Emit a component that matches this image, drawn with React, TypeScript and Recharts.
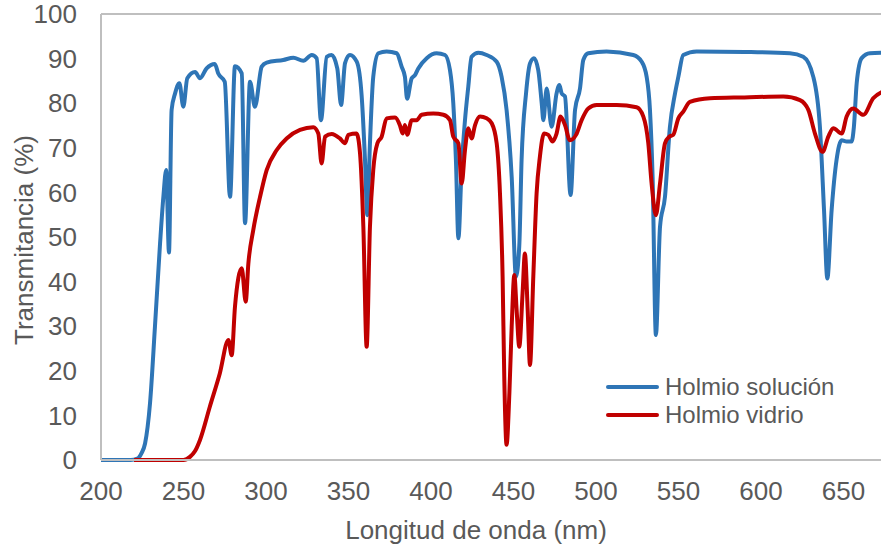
import { Legend, Line, LineChart, ReferenceLine, XAxis, YAxis } from 'recharts'

// Holmio en solución: longitud de onda (nm) y transmitancia (%)
const solNm = [
  200, 218, 222, 224.5, 226.7, 229.7, 232.7, 235.8, 237.8, 239.5, 241.2, 242.8, 244.9, 247.5, 249.9,
  252.3, 257, 260, 264, 269, 271, 275, 278.2, 281.2, 285.3, 287.3, 290.3, 293.3, 297.4, 300.4, 310.5,
  316.6, 322.6, 327.7, 330.7, 333.3, 336.8, 339.8, 343.2, 345.5, 347.9, 350.9, 355, 358, 360, 361.4,
  363, 365, 368.1, 373.1, 379.2, 382.2, 384.2, 385.5, 388.3, 390.3, 392.3, 397.4, 403.4, 408.5, 411.5,
  413.5, 415.1, 416.6, 418.6, 420.6, 422.6, 424.6, 428.7, 433.7, 439.8, 442.8, 445.8, 448.9, 451.5,
  453.5, 454.9, 457.6, 460, 462.4, 465, 467.1, 468.1, 470.1, 473.1, 476.1, 477.8, 479.2, 481.2, 484.6,
  487.3, 490.3, 492.3, 495.3, 506.4, 522.6, 527.7, 530.7, 532.7, 534.3, 536.3, 538.8, 541.8, 544.8,
  547.9, 549.9, 552.9, 561, 590, 617.5, 625.6, 631.7, 635.7, 638.2, 640.2, 642.8, 645.8, 648.9, 651.9,
  654.9, 656.3, 658, 661, 666, 675,
]
const solT = [
  0, 0, 0.3, 1.5, 3.7, 12.7, 29.9, 48.6, 59, 65, 46.5, 78.5, 82.2, 84.5, 79.2,
  85.6, 87, 85.6, 87.8, 88.8, 86.7, 84.8, 59, 88.3, 86.7, 53.1, 84.8, 79.2, 88.2, 89.1, 89.7,
  90.2, 89.5, 90.8, 90.1, 76.2, 90.4, 90.8, 87.8, 79.6, 89, 90.8, 89.3, 81.5, 67.3, 54.9,
  71, 85.9, 91.2, 91.6, 91.2, 88.2, 85.9, 81, 85.6, 86.3, 87.8, 90.1, 91.2, 90.8, 87.4,
  80, 67.3, 49.7, 65.8, 76.2, 83.7, 90.4, 91.3, 90.8, 89.3, 85.9, 78.5, 63.5, 41.1,
  48, 67.3, 82.2, 88.9, 90.1, 87.4, 80, 76.2, 83.3, 74.7, 82.2, 84.1, 82.2, 81.5, 59.4,
  78.5, 83.3, 89.7, 91.2, 91.6, 90.8, 89.3, 85.9, 78.5, 63.5, 28, 52.3, 59, 74.7,
  82.2, 85.9, 90.8, 91.6, 91.5, 91.2, 90.4, 85.9, 74.7, 56, 40.7, 56, 67.3, 71.7, 71.4,
  71.4, 74.7, 84.5, 90.1, 91.2, 91.3,
]

// Holmio en vidrio
const vidNm = [
  220, 250, 253.9, 257, 260, 266, 272, 277.2, 279.2, 281.2, 285.3, 287.7, 289.3, 292.3, 296.4, 300.4,
  306.5, 312.5, 320.6, 328.7, 331.7, 333.7, 335.8, 339.8, 344.8, 347.9, 349.9, 354.9, 357, 359, 361,
  363, 365, 367.5, 370.1, 373.1, 378.2, 381.2, 382.8, 384.2, 385.6, 388.3, 391.3, 394.3, 401.4, 407.5,
  411.5, 413.5, 416.6, 418.6, 420.6, 422.6, 424.6, 426.7, 429.7, 433.7, 436.8, 439.8, 441.8, 443.4,
  444.4, 445.8, 447.5, 448.9, 450.5, 451.9, 453.5, 455.5, 456.9, 458.6, 460, 462, 464, 466, 468.5,
  471.1, 473.7, 476.1, 478.5, 481.2, 484.2, 487.9, 491.3, 495.3, 500.4, 512.5, 524.6, 528.7, 531.7,
  533.7, 536.3, 538.8, 541.8, 544.4, 546.8, 549.9, 552.9, 556.9, 569.1, 590, 613.5, 623.6, 628.7,
  632.7, 637.3, 640.8, 643.8, 648.9, 651.9, 655.9, 662, 668, 675,
]
const vidT = [
  0, 0, 0.7, 2, 4.5, 12, 19.4, 26.9, 23.5, 34.4, 43, 35.5, 44, 51.6, 59, 65,
  69.5, 72.1, 74, 74.6, 73.2, 66.5, 72.5, 73.1, 72.1, 71, 72.9, 73.2, 68.7, 52.3, 25.4,
  52.3, 65, 71, 72.5, 76.6, 76.8, 75, 73.2, 75.1, 72.9, 76.2, 76.2, 77.4, 77.7, 77.4,
  76.2, 72.5, 71, 62, 69.5, 74.4, 72.1, 75.1, 77, 76.6, 75.5, 71, 59.8, 41.1,
  18.7, 3.4, 15, 29.9, 41.5, 33.6, 25.4, 37.4, 46.3, 33.6, 21.3, 41.1, 59.8, 68, 73.2,
  72.9, 71.4, 73.2, 77, 75.1, 71.7, 72.9, 76.2, 78.8, 79.6, 79.6, 79.1, 77, 71,
  62, 54.9, 62, 71, 72.5, 72.9, 76.6, 78.1, 80.3, 81.1, 81.3, 81.5, 80.7, 78.5,
  73.2, 69.1, 72.5, 74.4, 73.2, 77, 78.8, 77.4, 81.1, 82.8,
]

const xTicks = [200, 250, 300, 350, 400, 450, 500, 550, 600, 650]
const yTicks = [0, 10, 20, 30, 40, 50, 60, 70, 80, 90, 100]

const SERIES = [
  { name: 'Holmio solución', color: '#2e75b6', data: solNm.map((nm, i) => ({ nm, t: solT[i] })) },
  { name: 'Holmio vidrio', color: '#c00000', data: vidNm.map((nm, i) => ({ nm, t: vidT[i] })) },
]

const FONT = '"Liberation Sans", Arial, sans-serif'
const TEXT = '#595959'
const AXIS = '#bfbfbf'

function LegendBox() {
  return (
    <div style={{ fontFamily: FONT, fontSize: 24, color: TEXT }}>
      {SERIES.map((s) => (
        <div key={s.name} style={{ display: 'flex', alignItems: 'center', height: 28, whiteSpace: 'nowrap' }}>
          <span style={{ width: 53, height: 4, borderRadius: 2, background: s.color, marginRight: 6 }} />
          <span>{s.name}</span>
        </div>
      ))}
    </div>
  )
}

export default function App() {
  return (
    <div style={{ position: 'fixed', left: 0, top: 0, width: 881, height: 554, overflow: 'hidden', background: '#fff' }}>
      <LineChart width={930} height={554} margin={{ top: 14, right: 4, bottom: 0, left: 0 }}>
        <XAxis
          type="number"
          dataKey="nm"
          domain={[200, 700]}
          ticks={xTicks}
          interval={0}
          height={94}
          tickLine={false}
          tickSize={0}
          tickMargin={22}
          axisLine={{ stroke: AXIS, strokeWidth: 2 }}
          tick={{ fill: TEXT, fontSize: 26, fontFamily: FONT }}
          label={{
            content: () => (
              <text x={476} y={539} textAnchor="middle" fill={TEXT} fontSize={26} fontFamily={FONT}>
                Longitud de onda (nm)
              </text>
            ),
          }}
        />
        <YAxis
          type="number"
          domain={[0, 100]}
          ticks={yTicks}
          interval={0}
          width={101}
          tickLine={false}
          tickSize={0}
          tickMargin={24}
          axisLine={{ stroke: AXIS, strokeWidth: 2 }}
          tick={{ fill: TEXT, fontSize: 26, fontFamily: FONT }}
          label={{
            content: () => (
              <text
                x={24}
                y={240}
                transform="rotate(-90 24 240)"
                textAnchor="middle"
                dominantBaseline="central"
                fill={TEXT}
                fontSize={26}
                fontFamily={FONT}
              >
                Transmitancia (%)
              </text>
            ),
          }}
        />
        <ReferenceLine y={100} stroke={AXIS} strokeWidth={2} />
        {SERIES.map((s) => (
          <Line
            key={s.name}
            data={s.data}
            dataKey="t"
            name={s.name}
            type="monotone"
            stroke={s.color}
            strokeWidth={4}
            dot={false}
            activeDot={false}
            isAnimationActive={false}
          />
        ))}
        <Legend
          layout="vertical"
          align="center"
          verticalAlign="middle"
          content={() => <LegendBox />}
          wrapperStyle={{ left: 606, top: 373, width: 270, right: 'auto', bottom: 'auto' }}
        />
      </LineChart>
    </div>
  )
}
